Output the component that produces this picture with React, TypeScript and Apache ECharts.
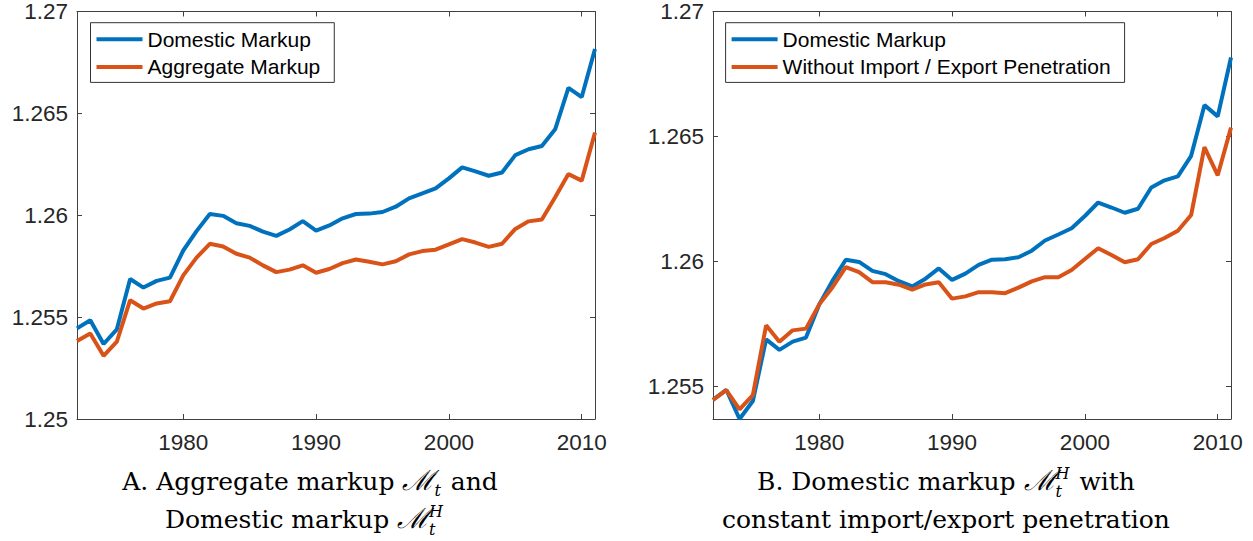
import React, { useEffect, useRef } from 'react';
import * as echarts from 'echarts';

const years = [1972, 1973, 1974, 1975, 1976, 1977, 1978, 1979, 1980, 1981, 1982, 1983, 1984, 1985, 1986, 1987, 1988, 1989, 1990, 1991, 1992, 1993, 1994, 1995, 1996, 1997, 1998, 1999, 2000, 2001, 2002, 2003, 2004, 2005, 2006, 2007, 2008, 2009, 2010, 2011];

const domesticMarkup = [1.25445, 1.25485, 1.25368, 1.2544, 1.25687, 1.25645, 1.25678, 1.25694, 1.25827, 1.25922, 1.26006, 1.25997, 1.25961, 1.25948, 1.2592, 1.25899, 1.2593, 1.25971, 1.25925, 1.2595, 1.25985, 1.26006, 1.26008, 1.26016, 1.26042, 1.26083, 1.26107, 1.26132, 1.26181, 1.26235, 1.26215, 1.26194, 1.2621, 1.26295, 1.26324, 1.2634, 1.26422, 1.26625, 1.2658, 1.26816];

const aggregateMarkup = [1.25383, 1.2542, 1.2531, 1.2538, 1.25583, 1.25542, 1.25567, 1.25578, 1.25705, 1.25792, 1.2586, 1.25847, 1.25811, 1.25792, 1.25754, 1.25721, 1.25733, 1.25754, 1.25718, 1.25736, 1.25765, 1.25783, 1.25772, 1.25759, 1.25774, 1.25808, 1.25824, 1.25831, 1.25857, 1.25883, 1.25866, 1.25845, 1.2586, 1.25933, 1.2597, 1.25979, 1.26088, 1.26202, 1.2617, 1.26406];

const withoutImportExport = [1.25444, 1.25484, 1.25407, 1.25464, 1.25743, 1.25677, 1.25723, 1.2573, 1.25827, 1.25896, 1.25976, 1.25956, 1.25916, 1.25916, 1.25906, 1.25886, 1.25907, 1.25916, 1.2585, 1.25859, 1.25876, 1.25876, 1.25872, 1.25894, 1.25919, 1.25936, 1.25936, 1.25965, 1.26009, 1.26052, 1.26025, 1.25996, 1.26008, 1.26069, 1.26093, 1.26122, 1.26185, 1.26457, 1.26344, 1.26535];

const xTicks = [1980, 1990, 2000, 2010];
const yTicksA = [1.25, 1.255, 1.26, 1.265, 1.27];
const yTicksB = [1.255, 1.26, 1.265, 1.27];

const legendA = ['Domestic Markup', 'Aggregate Markup'];
const legendB = ['Domestic Markup', 'Without Import / Export Penetration'];

// caption pieces: each segment = list of parts drawn at the same x
type Part = { t: string; s: number; i?: boolean; dy?: number };
const captionA1: Part[][] = [[{ t: 'A. Aggregate markup ', s: 25 }], [{ t: 'ℳ', s: 28, i: true }], [{ t: 't', s: 16, i: true, dy: 6 }], [{ t: ' and', s: 25 }]];
const captionA2: Part[][] = [[{ t: 'Domestic markup ', s: 25 }], [{ t: 'ℳ', s: 28, i: true }], [{ t: 'H', s: 16, i: true, dy: -11 }, { t: 't', s: 16, i: true, dy: 7 }]];
const captionB1: Part[][] = [[{ t: 'B. Domestic markup ', s: 25 }], [{ t: 'ℳ', s: 28, i: true }], [{ t: 'H', s: 16, i: true, dy: -11 }, { t: 't', s: 16, i: true, dy: 7 }], [{ t: ' with', s: 25 }]];
const captionB2: Part[][] = [[{ t: 'constant import/export penetration', s: 25 }]];

const BLUE = '#0072BD';
const ORANGE = '#D95319';
const SANS = '"Liberation Sans", Arial, Helvetica, sans-serif';
const SERIF = '"DejaVu Serif", "Liberation Serif", serif';
const AXIS = '#404040';

function buildCaption(lines: Part[][], cx: number, baseline: number): any[] {
  const canvas = document.createElement('canvas');
  const ctx = canvas.getContext('2d')!;
  const fontOf = (p: Part) => `${p.i ? 'italic ' : ''}${p.s}px ${SERIF}`;
  const widths = lines.map((seg) =>
    Math.max(...seg.map((p) => {
      ctx.font = fontOf(p);
      return ctx.measureText(p.t).width;
    })) + (seg.length > 1 || (seg[0].s < 20) ? 2 : 0)
  );
  const total = widths.reduce((a, b) => a + b, 0);
  let x = cx - total / 2;
  const out: any[] = [];
  lines.forEach((seg, k) => {
    seg.forEach((p) => {
      const yb = baseline + (p.dy || 0);
      out.push({
        type: 'text',
        x,
        y: yb - 0.34 * p.s,
        silent: true,
        style: {
          text: p.t,
          font: fontOf(p),
          fill: '#000',
          textAlign: 'left',
          textVerticalAlign: 'middle',
          align: 'left',
          verticalAlign: 'middle',
        },
      });
    });
    x += widths[k];
  });
  return out;
}

function xAxesFor(gi: number) {
  const common: any = {
    type: 'value',
    gridIndex: gi,
    min: 1972,
    max: 2011,
    splitLine: { show: false },
    axisLine: { show: true, onZero: false, lineStyle: { color: AXIS, width: 1 } },
    axisTick: { show: true, inside: true, length: 5, customValues: xTicks, lineStyle: { color: AXIS, width: 1 } },
  };
  return [
    {
      ...common,
      position: 'bottom',
      axisLabel: { show: true, customValues: xTicks, margin: 12, fontFamily: SANS, fontSize: 22.5, color: '#262626', formatter: (v: number) => String(v) },
    },
    { ...common, position: 'top', axisLabel: { show: false } },
  ];
}

function yAxesFor(gi: number, min: number, ticks: number[]) {
  const common: any = {
    type: 'value',
    gridIndex: gi,
    min,
    max: 1.27,
    splitLine: { show: false },
    axisLine: { show: true, onZero: false, lineStyle: { color: AXIS, width: 1 } },
    axisTick: { show: true, inside: true, length: 5, customValues: ticks, lineStyle: { color: AXIS, width: 1 } },
  };
  return [
    {
      ...common,
      position: 'left',
      axisLabel: {
        show: true,
        customValues: ticks,
        margin: 9,
        fontFamily: SANS,
        fontSize: 22.5,
        color: '#262626',
        formatter: (v: number) => String(parseFloat(v.toFixed(4))),
      },
    },
    { ...common, position: 'right', axisLabel: { show: false } },
  ];
}

function legendFor(left: number, names: string[]) {
  return {
    orient: 'vertical',
    left,
    top: 22.7,
    data: names,
    icon: 'rect',
    itemWidth: 46,
    itemHeight: 4,
    itemGap: 6.7,
    padding: [6, 14, 5, 6],
    borderColor: '#333',
    borderWidth: 1,
    backgroundColor: '#fff',
    selectedMode: false,
    textStyle: { fontFamily: SANS, fontSize: 21, lineHeight: 21, color: '#000' },
  };
}

const pairs = (arr: number[]) => years.map((y, i) => [y, arr[i]]);

export default function App() {
  const ref = useRef<HTMLDivElement>(null);
  useEffect(() => {
    const chart = echarts.init(ref.current!, null, { renderer: 'svg' });
    const line = (name: string, data: number[], color: string, xi: number, yi: number) => ({
      name,
      type: 'line',
      xAxisIndex: xi,
      yAxisIndex: yi,
      data: pairs(data),
      symbol: 'none',
      clip: false,
      color,
      lineStyle: { color, width: 4 },
    });
    const option: any = {
      animation: false,
      backgroundColor: '#fff',
      grid: [
        { left: 77, top: 10, width: 518, height: 409, containLabel: false },
        { left: 713, top: 10, width: 518, height: 409, containLabel: false },
      ],
      xAxis: [...xAxesFor(0), ...xAxesFor(1)],
      yAxis: [...yAxesFor(0, 1.25, yTicksA), ...yAxesFor(1, 1.25368, yTicksB)],
      legend: [legendFor(90.5, legendA), legendFor(725.6, legendB)],
      series: [
        line(legendA[0], domesticMarkup, BLUE, 0, 0),
        line(legendA[1], aggregateMarkup, ORANGE, 0, 0),
        line(legendB[0], domesticMarkup, BLUE, 2, 2),
        line(legendB[1], withoutImportExport, ORANGE, 2, 2),
      ],
      graphic: [
        ...buildCaption(captionA1, 310, 490),
        ...buildCaption(captionA2, 305, 528),
        ...buildCaption(captionB1, 946, 490),
        ...buildCaption(captionB2, 946, 528),
      ],
    };
    chart.setOption(option);
    return () => chart.dispose();
  }, []);
  return <div ref={ref} style={{ position: 'fixed', left: 0, top: 0, width: 1253, height: 541, background: '#fff' }} />;
}
